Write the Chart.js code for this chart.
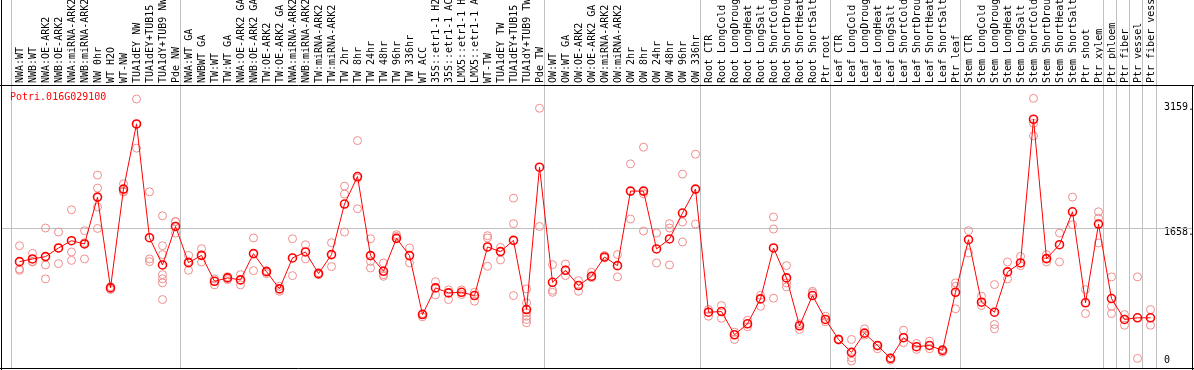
<!DOCTYPE html>
<html>
<head>
<meta charset="utf-8">
<script src="https://cdn.jsdelivr.net/npm/chart.js@4"></script>
<style>
    body { margin: 0; background: #fff; }
    #wrap { width: 1194px; height: 370px; }
</style>
</head>
<body>
<div id="wrap"><canvas id="chartexp" width="1194" height="370"></canvas></div>
<script>
var geneName = 'Potri.016G029100';

var labels = [
    'NWA:WT', 'NWB:WT', 'NWA:OE-ARK2', 'NWB:OE-ARK2', 'NWA:miRNA-ARK2', 'NWB:miRNA-ARK2', 'NW 0hr', 'WT H2O', 'WT-NW',
    'TUA1dEY NW', 'TUA1dEY+TUB15', 'TUA1dY+TUB9 NW', 'Pde NW',
    'NWA:WT GA', 'NWBWT GA', 'TW:WT', 'TW:WT GA', 'NWA:OE-ARK2 GA', 'NWB:OE-ARK2 GA', 'TW:OE-ARK2', 'TW:OE-ARK2 GA',
    'NWA:miRNA-ARK2', 'NWB:miRNA-ARK2', 'TW:miRNA-ARK2', 'TW:miRNA-ARK2', 'TW 2hr', 'TW 8hr', 'TW 24hr', 'TW 48hr',
    'TW 96hr', 'TW 336hr', 'WT ACC', '35S::etr1-1 H2', '35S::etr1-1 AC', 'LMX5::etr1-1 H', 'LMX5::etr1-1 A', 'WT-TW',
    'TUA1dEY TW', 'TUA1dEY+TUB15', 'TUA1dY+TUB9 TW', 'Pde TW',
    'OW:WT', 'OW:WT GA', 'OW:OE-ARK2', 'OW:OE-ARK2 GA', 'OW:miRNA-ARK2', 'OW:miRNA-ARK2', 'OW 2hr', 'OW 8hr', 'OW 24hr',
    'OW 48hr', 'OW 96hr', 'OW 336hr',
    'Root CTR', 'Root LongCold', 'Root LongDroug', 'Root LongHeat', 'Root LongSalt', 'Root ShortCold', 'Root ShortDrou',
    'Root ShortHeat', 'Root ShortSalt', 'Ptr root',
    'Leaf CTR', 'Leaf LongCold', 'Leaf LongDroug', 'Leaf LongHeat', 'Leaf LongSalt', 'Leaf ShortCold', 'Leaf ShortDrou',
    'Leaf ShortHeat', 'Leaf ShortSalt', 'Ptr leaf',
    'Stem CTR', 'Stem LongCold', 'Stem LongDroug', 'Stem LongHeat', 'Stem LongSalt', 'Stem ShortCold', 'Stem ShortDrou',
    'Stem ShortHeat', 'Stem ShortSalt', 'Ptr shoot', 'Ptr xylem',
    'Ptr phloem', 'Ptr fiber', 'Ptr vessel', 'Ptr fiber vess'
];

// index of first sample of each block (grey separators)
var groupStarts = [0, 13, 41, 53, 63, 73, 84, 85, 86, 87];

var means = [
    1251, 1283, 1311, 1415, 1502, 1463, 2025, 936, 2121, 2903, 1538, 1211, 1673,
    1239, 1326, 1015, 1056, 1032, 1347, 1131, 924, 1295, 1367, 1107, 1335, 1942, 2272, 1323, 1135,
    1530, 1323, 616, 936, 876, 883, 844, 1427, 1371, 1506, 676, 2384,
    1003, 1147, 964, 1075, 1307, 1203, 2097, 2097, 1403, 1523, 1834, 2121,
    644, 652, 373, 505, 804, 1415, 1056, 481, 844, 557,
    317, 162, 393, 245, 90, 338, 230, 245, 186, 883,
    1514, 764, 644, 1128, 1235, 2959, 1287, 1454, 1849, 757, 1702,
    808, 557, 577, 577
];

var replicates = [
    [1442, 1163, 1147], [1350, 1247, 1252], [1654, 1211, 1044], [1606, 1227, 1411], [1873, 1367, 1266],
    [1622, 1478, 1283], [2289, 2133, 1906, 1649], [952, 916], [2185, 2092, 2086], [3202, 2612, 2897],
    [2089, 1283, 1251], [1801, 1442, 1335, 1095, 1044, 996, 796], [1733, 1730, 1594],
    [1323, 1147, 1251], [1406, 1247], [1044, 972], [1071, 1035], [1095, 972], [1535, 1143], [1143, 1107],
    [955, 895], [1526, 1083], [1454, 1283], [1119, 1095], [1478, 1191], [2157, 2061, 1606], [2703, 2253, 1885],
    [1526, 1254, 1175], [1235, 1095, 1075], [1574, 1554], [1415, 1235], [628, 589], [1011, 852], [912, 796],
    [912, 856], [883, 776], [1562, 1535, 1195], [1422, 1271], [2013, 1706, 844],
    [924, 757, 637, 596, 557, 517], [3091, 1673],
    [1215, 907, 883], [1223, 1083], [1023, 895], [1123, 1059], [1323, 1295], [1335, 1068], [2424, 1762],
    [2624, 2065, 1618], [1594, 1235], [1706, 1654, 1211], [2301, 1726, 1487], [2540, 1702],
    [676, 596], [724, 572], [405, 317], [548, 469], [847, 716], [1786, 1642, 812], [1203, 996, 948],
    [505, 437], [895, 876], [596, 529],
    [326, 309], [317, 98, 57], [445, 369], [237, 206], [98, 69], [429, 278], [269, 198], [297, 206],
    [198, 165], [996, 955, 685],
    [1622, 1355], [836, 724], [976, 497, 445], [1247, 1044], [1314, 1203], [3210, 2911, 2759], [1335, 1247],
    [1594, 1247], [2025, 1694], [916, 628], [1849, 1774, 1475],
    [1068, 716, 628], [616, 488], [1068, 90], [676, 488]
];

var yTicks = [0, 1658, 3159];

var meanPoints = means.map(function (v, i) { return { x: i, y: v }; });
var repPoints = [];
for (var i = 0; i < replicates.length; i++) {
    for (var val of replicates[i]) {
        repPoints.push({ x: i, y: val });
    }
}

var frame = {
    id: 'frame',
    beforeDatasetsDraw: function (chart) {
        var ctx = chart.ctx;
        var x = chart.scales.x;
        var y = chart.scales.y;
        ctx.save();
        ctx.lineWidth = 1;
        ctx.strokeStyle = '#c0c0c0';
        var gy = Math.round(y.getPixelForValue(1658)) + 0.5;
        ctx.beginPath();
        ctx.moveTo(1, gy);
        ctx.lineTo(1192, gy);
        ctx.stroke();
        var seps = groupStarts.map(function (g) { return x.getPixelForValue(g) - 8.5; });
        seps.push(x.getPixelForValue(labels.length - 1) + 5);
        ctx.beginPath();
        for (var s of seps) {
            var sx = Math.round(s) + 0.5;
            ctx.moveTo(sx, 0);
            ctx.lineTo(sx, 369);
        }
        ctx.stroke();
        ctx.strokeStyle = '#000';
        ctx.beginPath();
        ctx.moveTo(0, 85.5); ctx.lineTo(1194, 85.5);
        ctx.moveTo(1.5, 0); ctx.lineTo(1.5, 370);
        ctx.moveTo(1192.5, 85); ctx.lineTo(1192.5, 370);
        ctx.moveTo(0, 368.5); ctx.lineTo(1194, 368.5);
        ctx.stroke();
        ctx.fillStyle = '#ff0000';
        ctx.font = '10px "DejaVu Sans Mono"';
        ctx.textBaseline = 'alphabetic';
        ctx.fillText(geneName, 10, 100);
        ctx.restore();
    }
};

Chart.defaults.font.family = '"DejaVu Sans Mono", monospace';
Chart.defaults.font.size = 10;

var chartexp = new Chart(document.getElementById('chartexp').getContext('2d'), {
    data: {
        datasets: [{
            type: 'line',
            label: 'mean',
            data: meanPoints,
            borderColor: '#ff0000',
            borderWidth: 1,
            pointRadius: 4,
            pointBorderWidth: 1.6,
            pointBorderColor: '#ff0000',
            pointBackgroundColor: 'rgba(0,0,0,0)',
            clip: false,
            order: 1
        }, {
            type: 'scatter',
            label: 'replicates',
            data: repPoints,
            pointRadius: 4,
            pointBorderWidth: 1,
            pointBorderColor: '#f08c8c',
            pointBackgroundColor: 'rgba(0,0,0,0)',
            clip: false,
            order: 2
        }]
    },
    options: {
        responsive: false,
        animation: false,
        layout: { padding: { left: 13, right: 0, top: 0, bottom: 1 } },
        plugins: {
            legend: { display: false },
            tooltip: { enabled: false }
        },
        scales: {
            x: {
                type: 'linear',
                position: 'top',
                min: -0.5,
                max: labels.length - 0.5,
                grid: { display: false, drawTicks: false },
                border: { display: false },
                afterBuildTicks: function (s) {
                    s.ticks = labels.map(function (l, i) { return { value: i }; });
                },
                ticks: {
                    autoSkip: false,
                    minRotation: 90,
                    maxRotation: 90,
                    padding: 3,
                    labelOffset: 13,
                    color: '#000',
                    font: { size: 10 },
                    callback: function (v) { return labels[v]; }
                },
                afterFit: function (s) {
                    s.height = 86;
                    s.paddingLeft = 0;
                    s.paddingRight = 0;
                }
            },
            y: {
                position: 'right',
                // plot area ends at 365px, zero sits just under it like the original
                min: 18,
                max: 3358,
                grid: { display: false, drawTicks: false },
                border: { display: false },
                afterBuildTicks: function (s) {
                    s.ticks = yTicks.map(function (v) { return { value: v }; });
                },
                ticks: {
                    padding: 7,
                    color: '#000',
                    font: { size: 10, lineHeight: 1 },
                    callback: function (v) {
                        return v == 0 ? ['0', ''] : ['', v + '.'];
                    }
                },
                afterFit: function (s) {
                    s.width = 37;
                    s.paddingTop = 0;
                    s.paddingBottom = 0;
                }
            }
        }
    },
    plugins: [frame]
});
</script>
</body>
</html>
